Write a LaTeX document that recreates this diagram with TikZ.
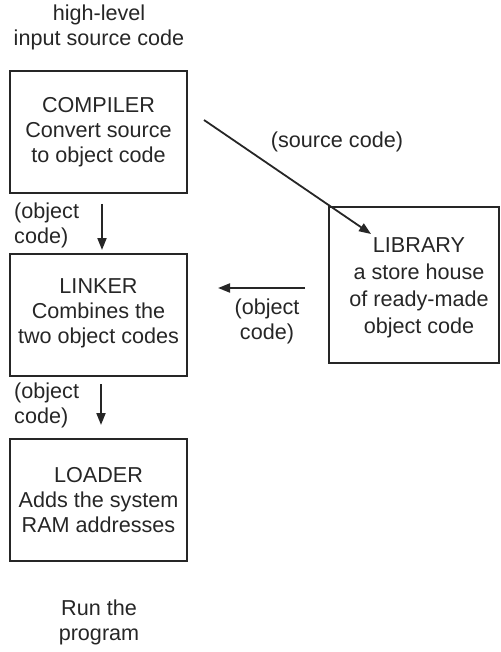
\documentclass[tikz,border=0pt]{standalone}
\usepackage{fontspec}
\setmainfont{Liberation Sans}
\usetikzlibrary{arrows.meta}
\begin{document}
\begin{tikzpicture}[x=1pt,y=-1pt,
  lbl/.style={font=\fontsize{21.6}{25}\selectfont, align=center, inner sep=0pt, text=black!85},
  box/.style={draw=black!85, line width=2.2pt, minimum width=177pt, minimum height=122pt, inner sep=0pt},
  arr/.style={draw=black!85, line width=1.8pt, -{Triangle[length=12pt,width=9pt]}}]
\useasboundingbox (0,0) rectangle (500,652);
\node[lbl] (top) at (99,27) {high-level\\input source code};
\node[box] (compiler) at (98.5,132) {};
\node[lbl] (compilertxt) at (98.5,132) {COMPILER\\Convert source\\to object code};
\node[box] (linker) at (98.5,315) {};
\node[lbl] (linkertxt) at (98.5,313) {LINKER\\Combines the\\two object codes};
\node[box] (loader) at (98.5,500) {};
\node[lbl] (loadertxt) at (98.5,500) {LOADER\\Adds the system\\RAM addresses};
\node[box, minimum width=170pt, minimum height=156pt] (library) at (414,285) {};
\node[lbl, font=\fontsize{21.6}{26.8}\selectfont] (librarytxt) at (419,288) {LIBRARY\\a store house\\of ready-made\\object code};
\node[lbl] (bottom) at (99,622) {Run the\\program};
\node[lbl] (srclbl) at (337,142) {(source code)};
\node[lbl, align=left, anchor=west] (obj1) at (14,225) {(object\\code)};
\node[lbl, align=left, anchor=west] (obj2) at (14,405) {(object\\code)};
\node[lbl] (obj3) at (267,321) {(object\\code)};
\coordinate (d1a) at (102,204);
\coordinate (d1b) at (102,250);
\coordinate (d2a) at (101,384);
\coordinate (d2b) at (101,425);
\coordinate (ha) at (305,288);
\coordinate (hb) at (218,288);
\coordinate (sa) at (204,120);
\coordinate (sb) at (371,234);
\draw[arr] (d1a) -- (d1b);
\draw[arr] (d2a) -- (d2b);
\draw[arr] (ha) -- (hb);
\draw[arr] (sa) -- (sb);
\end{tikzpicture}
\end{document}
